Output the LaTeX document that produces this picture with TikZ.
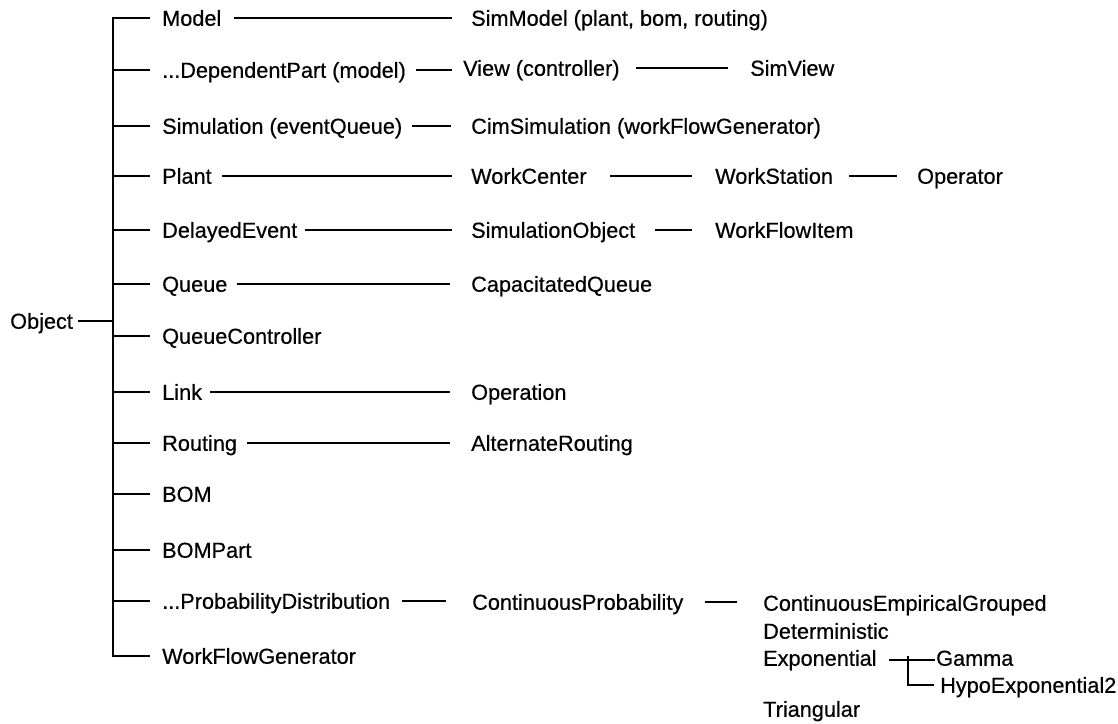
\documentclass[tikz,border=0pt]{standalone}
\usepackage{fontspec}
\setmainfont[FakeBold=0.5]{Liberation Sans}

\begin{document}
\begin{tikzpicture}[x=1pt,y=-1pt,
  cls/.style={anchor=west, inner sep=0pt, font=\fontsize{21.7}{26}\selectfont,
              text height=15.5pt, text depth=0pt},
  edge/.style={line width=1.8pt}]
\useasboundingbox (0,0) rectangle (1118,723);

% root and trunk
\node[cls] (object) at (10,321) {Object};
\coordinate (trunk) at (113,18);

% direct subclasses of Object
\node[cls] (model)    at (162,18)  {Model};
\node[cls] (dep)      at (162,70)  {...DependentPart (model)};
\node[cls] (sim)      at (162,126) {Simulation (eventQueue)};
\node[cls] (plant)    at (162,176) {Plant};
\node[cls] (delayed)  at (162,230) {DelayedEvent};
\node[cls] (queue)    at (162,284) {Queue};
\node[cls] (qctrl)    at (162,336) {QueueController};
\node[cls] (link)     at (162,392) {Link};
\node[cls] (routing)  at (162,443) {Routing};
\node[cls] (bom)      at (162,494) {BOM};
\node[cls] (bompart)  at (162,550) {BOMPart};
\node[cls] (probdist) at (162,601) {...ProbabilityDistribution};
\node[cls] (wfgen)    at (162,656) {WorkFlowGenerator};

% second level
\node[cls] (simmodel)   at (471,18)  {SimModel (plant, bom, routing)};
\node[cls] (view)       at (463,68)  {View (controller)};
\node[cls] (cimsim)     at (471,126) {CimSimulation (workFlowGenerator)};
\node[cls] (wcenter)    at (471,176) {WorkCenter};
\node[cls] (simobj)     at (471,230) {SimulationObject};
\node[cls] (capq)       at (471,284) {CapacitatedQueue};
\node[cls] (operation)  at (471,392) {Operation};
\node[cls] (altrouting) at (471,443) {AlternateRouting};
\node[cls] (contprob)   at (472,602) {ContinuousProbability};

% third level
\node[cls] (simview)  at (750,68)  {SimView};
\node[cls] (wstation) at (715,176) {WorkStation};
\node[cls] (wfitem)   at (715,230) {WorkFlowItem};
\node[cls] (ceg)      at (763,603) {ContinuousEmpiricalGrouped};
\node[cls] (determ)   at (763,631) {Deterministic};
\node[cls] (expo)     at (763,658) {Exponential};
\node[cls] (tri)      at (763,709) {Triangular};

% fourth level
\node[cls] (operator) at (917,176) {Operator};
\node[cls] (gamma)    at (936,658) {Gamma};
\node[cls] (hypo)     at (940,685) {HypoExponential2};
\coordinate (ebranch) at (908,656);

% trunk with first and last branches
\draw[edge] ([xshift=-12pt]model.west) -- (trunk |- model.west)
  -- (trunk |- wfgen.west) -- ([xshift=-12pt]wfgen.west);
\foreach \n in {dep,sim,plant,delayed,queue,qctrl,link,routing,bom,bompart,probdist}
  \draw[edge] (trunk |- \n.west) -- ([xshift=-12pt]\n.west);
\draw[edge,shorten <=5pt] (object.east) -- (object.east -| trunk);

% inheritance lines between columns
\draw[edge,shorten <=12pt,shorten >=19pt] (model.east) -- (model.east -| simmodel.west);
\draw[edge,shorten <=10pt,shorten >=11pt] (dep.east) -- (dep.east -| view.west);
\draw[edge,shorten <=16pt,shorten >=22pt] (view.east) -- (view.east -| simview.west);
\draw[edge,shorten <=10pt,shorten >=20pt] (sim.east) -- (sim.east -| cimsim.west);
\draw[edge,shorten <=10pt,shorten >=19pt] (plant.east) -- (plant.east -| wcenter.west);
\draw[edge,shorten <=23pt,shorten >=23pt] (wcenter.east) -- (wcenter.east -| wstation.west);
\draw[edge,shorten <=16pt,shorten >=20pt] (wstation.east) -- (wstation.east -| operator.west);
\draw[edge,shorten <=7pt,shorten >=19pt] (delayed.east) -- (delayed.east -| simobj.west);
\draw[edge,shorten <=20pt,shorten >=23pt] (simobj.east) -- (simobj.east -| wfitem.west);
\draw[edge,shorten <=9pt,shorten >=21pt] (queue.east) -- (queue.east -| capq.west);
\draw[edge,shorten <=8pt,shorten >=21pt] (link.east) -- (link.east -| operation.west);
\draw[edge,shorten <=10pt,shorten >=21pt] (routing.east) -- (routing.east -| altrouting.west);
\draw[edge,shorten <=12pt,shorten >=26pt] (probdist.east) -- (probdist.east -| contprob.west);
\draw[edge,shorten <=21pt,shorten >=26pt] (contprob.east) -- (contprob.east -| ceg.west);
\draw[edge,shorten <=12pt,shorten >=1pt] ([yshift=-2pt]expo.east) -- ([yshift=-2pt]expo.east -| gamma.west);
\draw[edge] (ebranch) |- ([xshift=-6pt]hypo.west);
\end{tikzpicture}
\end{document}
